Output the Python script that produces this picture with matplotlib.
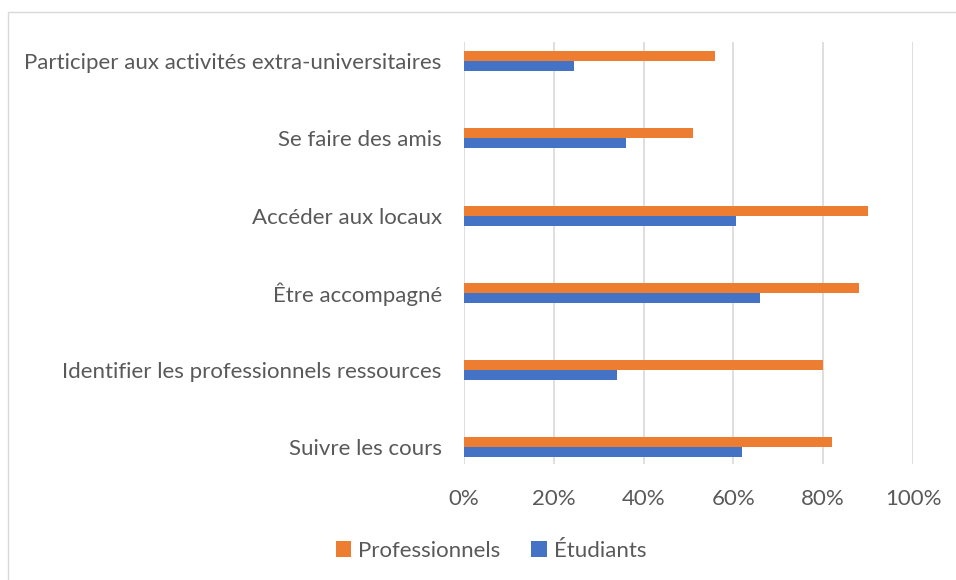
import matplotlib.pyplot as plt
import numpy as np
from matplotlib.patches import Rectangle
from matplotlib.ticker import FuncFormatter

categories = ["Suivre les cours", "Identifier les professionnels ressources",
              "Être accompagné", "Accéder aux locaux", "Se faire des amis",
              "Participer aux activités extra-universitaires"]
professionnels = [0.82, 0.80, 0.88, 0.90, 0.51, 0.56]
etudiants = [0.62, 0.34, 0.66, 0.605, 0.36, 0.245]

plt.rcParams['font.family'] = ['Lato', 'DejaVu Sans']
grey = '#595959'

fig = plt.figure(figsize=(9.56, 5.8), dpi=100)
fig.patches.append(Rectangle((8/956, -0.1), 2, 1.1 - 12/580, transform=fig.transFigure,
                             fill=False, edgecolor='#D9D9D9', linewidth=1))
ax = fig.add_axes([464/956, 1 - 464/580, (913 - 464)/956, (464 - 42)/580])

y = np.arange(len(categories))
h = 0.13
b1 = ax.barh(y + h/2, professionnels, height=h, color='#ED7D31', label='Professionnels')
b2 = ax.barh(y - h/2, etudiants, height=h, color='#4472C4', label='Étudiants')

ax.set_xlim(0, 1)
ax.set_ylim(-0.22, 5.25)
ax.set_xticks(np.arange(0, 1.01, 0.2))
ax.xaxis.set_major_formatter(FuncFormatter(lambda v, p: f"{v*100:.0f}%"))
ax.set_yticks(y, categories)
ax.grid(axis='x', color='#D9D9D9', linewidth=1.2)
ax.set_axisbelow(True)
for s in ax.spines.values():
    s.set_visible(False)
ax.tick_params(length=0, labelsize=16, colors=grey)
ax.tick_params(axis='y', pad=16)
ax.tick_params(axis='x', pad=18)

fig.legend(handles=[b1, b2], loc='center', bbox_to_anchor=(491/956, 1 - 551/580),
           ncol=2, frameon=False, fontsize=16, labelcolor=grey,
           handlelength=0.7, handleheight=0.7, handletextpad=0.3, columnspacing=1.4)

fig.savefig('out.png', dpi=100)
